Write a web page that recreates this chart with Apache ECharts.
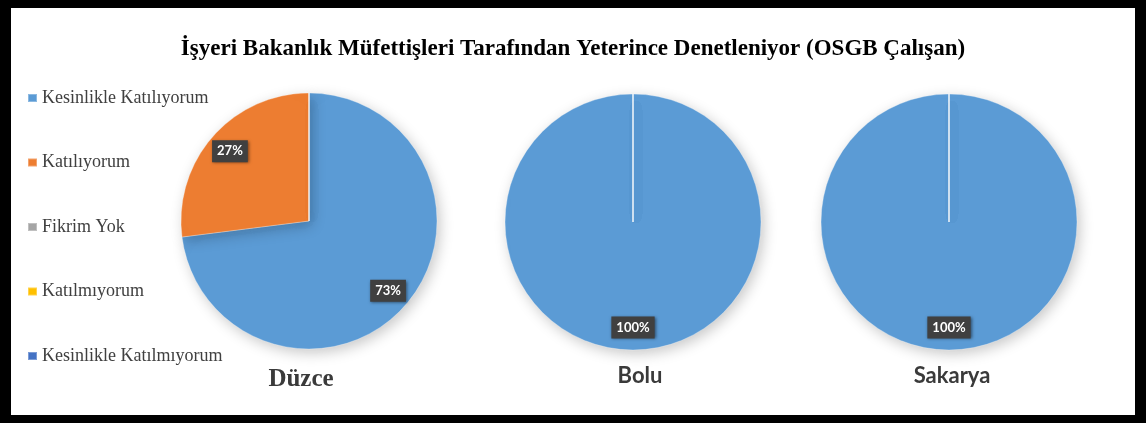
<!DOCTYPE html>
<html>
<head>
<meta charset="utf-8">
<script src="https://cdn.jsdelivr.net/npm/echarts@6/dist/echarts.min.js"></script>
<style>
  html, body { margin: 0; padding: 0; background: #fff; }
  #frame { position: relative; width: 1146px; height: 423px; background: #000; }
  #chart { position: absolute; left: 11px; top: 8px; width: 1124px; height: 407px; background: #fff; }
</style>
</head>
<body>
<div id="frame"><div id="chart"></div></div>
<script>
var chartTitle = 'İşyeri Bakanlık Müfettişleri Tarafından Yeterince Denetleniyor (OSGB Çalışan)'
var categories = ['Kesinlikle Katılıyorum', 'Katılıyorum', 'Fikrim Yok', 'Katılmıyorum', 'Kesinlikle Katılmıyorum']
var cities = ['Düzce', 'Bolu', 'Sakarya']
var duzceValues = [73, 27, 0, 0, 0]
var boluValues = [100, 0, 0, 0, 0]
var sakaryaValues = [100, 0, 0, 0, 0]

var colors = ['#5B9BD5', '#ED7D31', '#A5A5A5', '#FFC000', '#4472C4']
var centers = [[298, 213], [622, 214], [938, 214]]
var radius = 128
var cityLabels = [
  { x: 290, y: 372, fontFamily: 'Liberation Serif', fontSize: 25 },
  { x: 629, y: 368, fontFamily: 'Lato', fontSize: 22 },
  { x: 941, y: 368, fontFamily: 'Lato', fontSize: 22 }
]

var chart = echarts.init(document.getElementById('chart'))

function buildData(values, withLabel) {
  return values.map(function (v, i) {
    return {
      name: categories[i],
      value: v,
      label: { show: withLabel && v > 0 }
    }
  })
}

var series = []
var allValues = [duzceValues, boluValues, sakaryaValues]
allValues.forEach(function (vals, k) {
  series.push({
    name: cities[k],
    type: 'pie',
    center: centers[k],
    radius: [0, radius],
    startAngle: 90,
    clockwise: true,
    silent: true,
    label: { show: false },
    labelLine: { show: false },
    itemStyle: {
      borderColor: 'rgba(255,255,255,0.3)',
      borderWidth: 1,
      shadowBlur: 14,
      shadowOffsetX: 3,
      shadowOffsetY: 4,
      shadowColor: 'rgba(0,0,0,0.22)'
    },
    data: buildData(vals, false)
  })
})
// label layer: same slices, ring so the inside label sits near 0.8 r
allValues.forEach(function (vals, k) {
  series.push({
    name: cities[k] + ' etiket',
    type: 'pie',
    center: centers[k],
    radius: [radius * 0.6, radius],
    startAngle: 90,
    clockwise: true,
    silent: true,
    itemStyle: { color: 'rgba(0,0,0,0)', borderWidth: 0 },
    labelLine: { show: false },
    label: {
      position: 'inside',
      formatter: '{c}%',
      color: '#fff',
      fontFamily: 'Lato',
      fontWeight: 'bold',
      fontSize: 13,
      backgroundColor: '#404040',
      padding: [5, 5, 4, 5],
      shadowBlur: 3,
      shadowOffsetX: 1,
      shadowOffsetY: 1,
      shadowColor: 'rgba(0,0,0,0.5)'
    },
    data: buildData(vals, true)
  })
})

chart.setOption({
  backgroundColor: '#fff',
  color: colors,
  animation: false,
  title: {
    text: chartTitle,
    left: 'center',
    top: 25,
    textStyle: {
      fontFamily: 'Liberation Serif',
      fontWeight: 'bold',
      fontSize: 23,
      color: '#000'
    }
  },
  legend: {
    orient: 'vertical',
    left: 11,
    top: 76,
    itemWidth: 9,
    itemHeight: 8,
    itemGap: 46.5,
    icon: 'rect',
    selectedMode: false,
    textStyle: {
      fontFamily: 'Liberation Serif',
      fontSize: 18,
      color: '#404040'
    },
    data: categories
  },
  graphic: cities.map(function (c, k) {
    return {
      type: 'text',
      x: cityLabels[k].x,
      y: cityLabels[k].y,
      style: {
        text: c,
        align: 'center',
        verticalAlign: 'middle',
        fontFamily: cityLabels[k].fontFamily,
        fontWeight: 'bold',
        fontSize: cityLabels[k].fontSize,
        fill: '#3a3a3a'
      }
    }
  }),
  series: series
})
</script>
</body>
</html>
